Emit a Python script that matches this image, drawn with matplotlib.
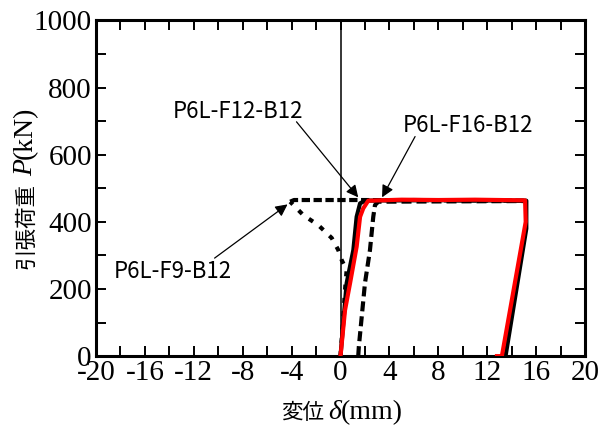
import matplotlib
matplotlib.use("Agg")
import matplotlib.pyplot as plt
from matplotlib.ticker import MultipleLocator

plt.rcParams['axes.unicode_minus'] = False

# Data (displacement mm, load kN)
f12_x = [0, 0.5, 1.05, 1.32, 1.6, 2.0, 6, 10, 15.2, 15.2, 13.5]
f12_y = [0, 217, 316, 415, 455, 463, 465, 464, 463, 380, 0]

red_x = [0, 0.37, 0.78, 1.32, 1.6, 1.86, 2.27, 5, 8, 11, 15.1, 15.15, 13.2, 12.8]
red_y = [0, 137, 217, 326, 415, 440, 463, 466, 465, 466, 464, 400, 0, 0]

f16_x = [1.45, 1.5, 2.0, 2.41, 2.68, 2.82, 3.09, 15.2]
f16_y = [0, 28, 217, 316, 415, 450, 460, 462]

f9_pre_x = [0, 0.2, 0.37, 0.5, 0.1, -0.18, -0.72, -1.81, -3.04, -4.12]
f9_pre_y = [0, 100, 197, 256, 286, 316, 352, 390, 420, 460]
f9_post_x = [-4.12, -3.8, 1.5, 15.2]
f9_post_y = [460, 465, 465, 463]

labels = ['P6L-F12-B12', 'P6L-F16-B12', 'P6L-F9-B12']

W, H = 600, 425
fig = plt.figure(figsize=(6, 4.25), dpi=100)
ax = fig.add_axes([0.16, 0.162, 0.815, 0.79])

ax.axvline(0, color='black', lw=1.1, zorder=1)

ax.plot(f9_pre_x, f9_pre_y, color='black', lw=3, linestyle=(0, (1.2, 2.0)), zorder=2)
ax.plot(f9_post_x, f9_post_y, color='black', lw=3, linestyle=(0, (2.0, 0.85)), zorder=2)
ax.plot(f16_x, f16_y, color='black', lw=3, linestyle=(0, (2.4, 1.2)), zorder=2)
ax.plot(f12_x, f12_y, color='black', lw=3, zorder=3)
ax.plot(red_x, red_y, color='red', lw=3, zorder=4)

ax.set_xlim(-20, 20)
ax.set_ylim(0, 1000)
ax.xaxis.set_major_locator(MultipleLocator(4))
ax.xaxis.set_minor_locator(MultipleLocator(2))
ax.yaxis.set_major_locator(MultipleLocator(200))
ax.yaxis.set_minor_locator(MultipleLocator(100))
ax.tick_params(which='both', direction='in', top=True, right=True,
               length=7, width=1.4)
ax.tick_params(which='major', labelsize=21, pad=3)
for lab in ax.get_xticklabels() + ax.get_yticklabels():
    lab.set_family('Liberation Serif')
for s in ax.spines.values():
    s.set_linewidth(2.2)

# annotations: text and arrows
txt_kw = dict(fontsize=16, family='Noto Sans CJK JP', ha='center', va='center')
ax.text(-8.4, 728, labels[0], **txt_kw)
ax.text(10.4, 686, labels[1], **txt_kw)
ax.text(-13.7, 253, labels[2], **txt_kw)
arr = dict(arrowstyle='-|>', color='black', lw=0.9, mutation_scale=18,
           shrinkA=0, shrinkB=0)
ax.annotate('', xy=(1.45, 473), xytext=(-3.6, 698), arrowprops=arr)
ax.annotate('', xy=(3.4, 473), xytext=(6.1, 654), arrowprops=arr)
ax.annotate('', xy=(-4.33, 452), xytext=(-10.3, 292), arrowprops=arr)

# axis labels built from pieces (CJK sans + Times-like serif)
renderer = fig.canvas.get_renderer()

def measure(s, **kw):
    t = fig.text(0, 0, s, **kw)
    w = t.get_window_extent(renderer).width
    t.remove()
    return w

cjk = dict(family='Noto Sans CJK JP', fontsize=15.5)
ser = dict(family='Liberation Serif', fontsize=20)
seri = dict(family='Liberation Serif', fontsize=20, style='italic')

# x label: 変位 δ(mm)
xpieces = [('変位', cjk, 4), ('δ', seri, 0), ('(mm)', ser, 0)]
widths = [measure(s, **k) for s, k, g in xpieces]
total = sum(widths) + sum(g for _, _, g in xpieces)
x = 342 - total / 2
for (s, k, g), w in zip(xpieces, widths):
    fig.text(x / W, 1 - 419 / H, s, ha='left', va='baseline', **k)
    x += w + g

# y label: 引張荷重 P(kN), rotated
ypieces = [('引張荷重', cjk, 7), ('P', seri, 0), ('(kN)', ser, 0)]
widths = [measure(s, **k) for s, k, g in ypieces]
total = sum(widths) + sum(g for _, _, g in ypieces)
y = 188 + total / 2
for (s, k, g), w in zip(ypieces, widths):
    fig.text(32 / W, 1 - y / H, s, ha='left', va='baseline', rotation=90,
             rotation_mode='anchor', **k)
    y -= w + g

fig.savefig('out.png', dpi=100)
